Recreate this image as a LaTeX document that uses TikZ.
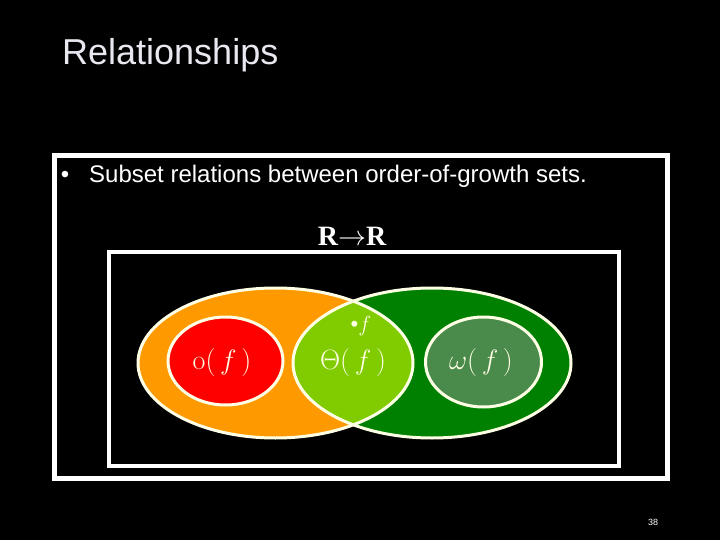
\RequirePackage{fix-cm}
\documentclass[tikz,border=0pt]{standalone}
\usepackage[no-math]{fontspec}
\setmainfont{Liberation Sans}
\newfontfamily\timesfont{Liberation Serif}
\definecolor{cream}{RGB}{255,255,230}
\definecolor{titlegray}{RGB}{232,232,240}
\definecolor{setorange}{RGB}{255,153,0}
\definecolor{setred}{RGB}{255,0,0}
\definecolor{setgreen}{RGB}{0,128,0}
\definecolor{lensgreen}{RGB}{128,204,0}
\definecolor{dullgreen}{RGB}{74,138,74}

\begin{document}
\begin{tikzpicture}[x=1pt,y=-1pt,
  rim/.style={draw=cream,line width=3pt},
  setlabel/.style={text=cream,inner sep=0,font=\fontsize{28}{32}\selectfont}]
  \fill[black] (0,0) rectangle (720,540);

  % slide text
  \node[anchor=base west,inner sep=0,text=titlegray,font=\fontsize{36}{40}\selectfont]
    (title) at (62,65) {Relationships};
  \draw[white,line width=5pt] (54.5,155.5) rectangle (667.5,478.5);
  \node[anchor=base,inner sep=0,text=white,font=\fontsize{24}{28}\selectfont]
    (bullet) at (65,183) {\textbullet};
  \node[anchor=base west,inner sep=0,text=white,font=\fontsize{24}{28}\selectfont]
    (point) at (89,183) {Subset relations between order-of-growth sets.};

  % universe R -> R
  \node[anchor=base,inner sep=0,text=white,font=\timesfont\bfseries\fontsize{28}{32}\selectfont]
    (space) at (352,245) {R$\rightarrow$R};
  \draw[white,line width=4pt] (109,252) rectangle (619,466);

  % the three order sets
  \fill[setorange] (275.5,363) ellipse [x radius=137.5,y radius=75];
  \fill[setgreen] (432,363) ellipse [x radius=139,y radius=75];
  \begin{scope}
    \clip (275.5,363) ellipse [x radius=137.5,y radius=75];
    \fill[lensgreen] (432,363) ellipse [x radius=139,y radius=75];
  \end{scope}
  \draw[rim] (275.5,363) ellipse [x radius=137.5,y radius=75];
  \draw[rim] (432,363) ellipse [x radius=139,y radius=75];
  \filldraw[rim,fill=setred] (225.5,361) ellipse [x radius=57.5,y radius=44];
  \filldraw[rim,fill=dullgreen] (483.5,362) ellipse [x radius=58,y radius=45];

  \node[setlabel] (little-o) at (222,362) {$\mathrm{o}(\,f\,)$};
  \node[setlabel] (theta) at (353,362) {$\Theta(\,f\,)$};
  \node[setlabel] (omega) at (481,362) {$\omega(\,f\,)$};
  \node[setlabel,font=\fontsize{22}{26}\selectfont] (point-f) at (361,326) {\textbullet$f$};

  \node[text=white,inner sep=0,font=\fontsize{9}{10}\selectfont] (page) at (653,522) {38};
\end{tikzpicture}
\end{document}
